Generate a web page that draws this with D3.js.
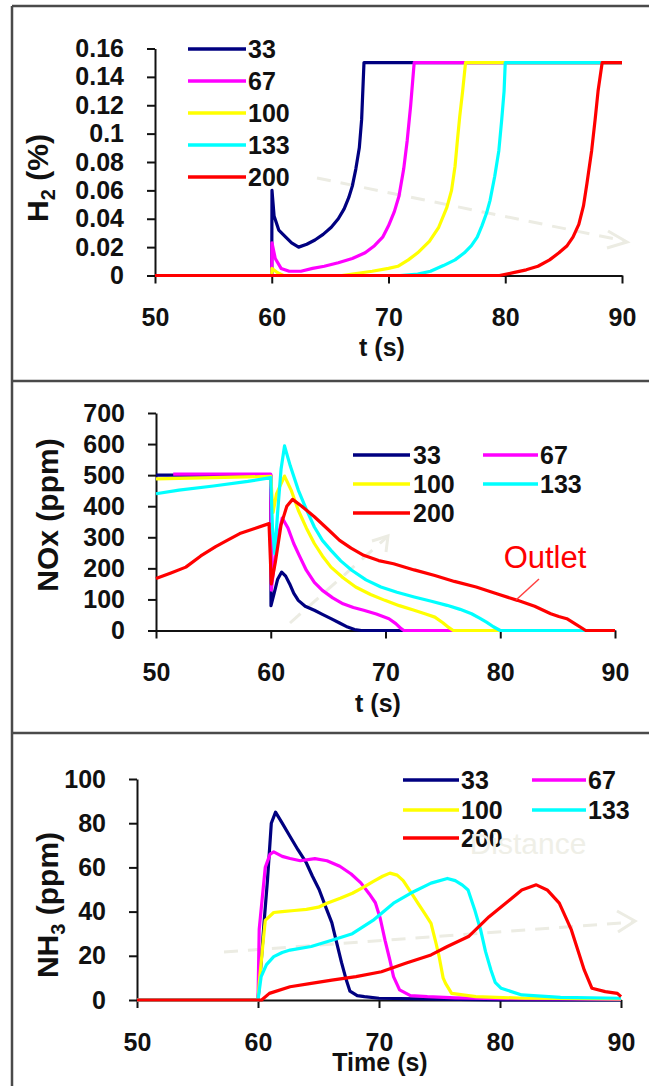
<!DOCTYPE html>
<html>
<head>
<meta charset="utf-8">
<script src="https://cdn.jsdelivr.net/npm/d3@7"></script>
<style>
  html, body { margin: 0; padding: 0; background: #fff; }
  svg { display: block; }
  .axis path, .axis line { stroke: #111; stroke-width: 2; }
  .axis text { font-family: "Liberation Sans", Arial, sans-serif; font-weight: bold; font-size: 25px; fill: #111; }
  .ttl { font-family: "Liberation Sans", Arial, sans-serif; font-weight: bold; fill: #111; }
  .leg { font-family: "Liberation Sans", Arial, sans-serif; font-weight: bold; font-size: 25px; fill: #111; }
</style>
</head>
<body>
<div id="chart"></div>
<script>
// series names + colours (same in every panel)
var seriesNames = ["33", "67", "100", "133", "200"];
var seriesColors = ["#000080", "#ff00ff", "#ffff00", "#00ffff", "#ff0000"];

var xTicks = [50, 60, 70, 80, 90];
var h2Ticks = [0, 0.02, 0.04, 0.06, 0.08, 0.1, 0.12, 0.14, 0.16];
var noxTicks = [0, 100, 200, 300, 400, 500, 600, 700];
var nh3Ticks = [0, 20, 40, 60, 80, 100];

// H2 (%) vs t (s)
var h2_33 = [[50,0],[60,0],[60.02,0.06],[60.2,0.042],[60.6,0.032],[61.2,0.027],[61.7,0.023],[62.3,0.02],[63,0.022],[63.7,0.025],[64.4,0.029],[65.1,0.034],[65.7,0.04],[66.2,0.047],[66.6,0.055],[66.9,0.063],[67.2,0.075],[67.5,0.09],[67.7,0.11],[67.9,0.15],[90,0.15]];
var h2_67 = [[50,0],[60,0],[60.02,0.023],[60.3,0.012],[60.8,0.005],[61.5,0.003],[62.5,0.003],[63.5,0.005],[64.5,0.0065],[65.7,0.009],[66.9,0.012],[68,0.016],[68.8,0.021],[69.5,0.027],[70,0.035],[70.5,0.045],[70.9,0.056],[71.3,0.075],[71.6,0.095],[71.9,0.12],[72.2,0.15],[90,0.15]];
var h2_100 = [[50,0],[60,0],[60.02,0.005],[60.5,0.002],[61,0],[66,0],[68.6,0.003],[70,0.005],[70.8,0.0065],[71.7,0.011],[72.5,0.016],[73.5,0.024],[74.3,0.034],[75,0.048],[75.4,0.06],[75.7,0.077],[75.9,0.095],[76.1,0.112],[76.35,0.13],[76.6,0.15],[90,0.15]];
var h2_133 = [[50,0],[71,0],[72.5,0.001],[73.6,0.003],[74.7,0.007],[75.7,0.011],[76.5,0.016],[77.1,0.021],[77.6,0.027],[78,0.035],[78.4,0.044],[78.7,0.053],[79.1,0.07],[79.45,0.088],[79.7,0.11],[79.9,0.13],[80,0.15],[90,0.15]];
var h2_200 = [[50,0],[79.5,0],[80.7,0.002],[81.8,0.004],[82.8,0.0065],[83.8,0.011],[84.6,0.016],[85.3,0.021],[85.8,0.027],[86.3,0.036],[86.7,0.049],[87,0.065],[87.4,0.088],[87.7,0.11],[87.95,0.13],[88.3,0.15],[90,0.15]];

// NOx (ppm) vs t (s)
var nox_33 = [[50,500],[60,500],[60.02,80],[60.3,120],[60.6,165],[60.95,188],[61.3,175],[61.65,150],[62,120],[62.4,97],[63,78],[63.8,65],[64.5,52],[65.25,38],[66,24],[66.7,11],[67.3,3],[67.9,0],[90,0]];
var nox_67 = [[51.5,503],[60,503],[60.05,130],[60.5,280],[61,362],[61.5,330],[62,280],[62.5,240],[63.1,194],[63.8,155],[64.5,129],[65.4,105],[66.3,86],[67.2,74],[68.1,65],[69.2,53],[70.3,38],[70.9,22],[71.3,8],[71.6,0],[90,0]];
var nox_100 = [[50,488],[55,492],[60,496],[60.2,380],[60.5,440],[61.2,497],[61.8,450],[62.4,387],[63.1,330],[63.8,280],[64.5,240],[65.25,204],[66.3,170],[67.4,140],[68.7,116],[69.95,97],[71.2,80],[72.5,65],[73.5,53],[74.3,43],[75,25],[75.5,10],[75.9,0],[90,0]];
var nox_133 = [[50,440],[52,452],[55,465],[58,480],[60,492],[60.15,330],[60.35,247],[60.6,380],[60.9,520],[61.2,594],[61.7,530],[62.4,452],[63.1,390],[63.8,333],[64.5,290],[65.25,258],[66.1,224],[67.06,194],[68.3,163],[69.6,140],[71,123],[72.5,108],[74,94],[75.36,81],[76.5,68],[77.5,54],[78.2,40],[78.8,27],[79.4,12],[80,0],[90,0]];
var nox_200 = [[50,167],[51.3,185],[52.6,204],[53.9,240],[55.2,270],[56.2,290],[57.3,312],[58.6,328],[59.85,344],[60.05,150],[60.4,220],[60.9,340],[61.4,400],[61.9,422],[62.7,400],[63.8,366],[65,325],[66,290],[67,265],[68.1,242],[69.4,225],[70.7,215],[72.5,195],[74.3,177],[76,158],[77.9,140],[79.7,118],[81.5,97],[83,78],[84.4,54],[85.1,45],[85.8,38],[86.6,20],[87.45,0],[90,0]];

// NH3 (ppm) vs Time (s)
var nh3_33 = [[50,0],[60,0],[60.26,17],[60.5,35],[60.78,54],[61.1,80],[61.45,85],[62,80],[62.65,74],[63.3,68],[64,62],[64.5,56],[65.05,50],[65.6,42],[66.1,35],[66.5,26],[66.9,17],[67.3,9],[67.6,4],[68.2,2],[68.8,1.5],[70,0.8],[75,0.4],[80,0],[90,0]];
var nh3_67 = [[50,0],[60,0],[60.1,32],[60.6,60],[61,66],[61.3,67],[62,65],[62.65,64],[63.5,63],[64.7,64],[65.7,63],[66.76,60.5],[67.7,57],[68.5,53],[69.2,48],[69.7,44],[70.1,37],[70.5,27],[70.9,18],[71.2,10.6],[71.7,4.6],[72.6,2],[74,1.5],[76.3,1],[80,0.6],[86,0.5],[90,0.3]];
var nh3_100 = [[50,0],[60,0],[60.1,7.5],[60.4,25],[60.6,36],[61.3,39.6],[62,40],[63,40.5],[64,41],[65,42],[65.7,43.8],[66.8,46],[67.8,48.3],[68.7,51],[69.5,53.6],[70.3,56],[70.9,57.4],[71.5,56.5],[72,54],[72.6,49],[73.2,44],[73.8,39],[74.3,34.7],[74.7,26],[74.97,19.6],[75.3,10],[75.5,7.5],[76,3],[78,1.5],[82,0.8],[90,0.5]];
var nh3_133 = [[50,0],[60,0],[60.26,10.6],[60.7,16],[61.3,19.6],[62,21.5],[62.65,22.6],[64.4,24.2],[66.1,27],[67.8,30],[69.5,36],[71.2,43.8],[72.6,48.3],[74.3,52.9],[75.65,55],[76.3,54],[76.9,52],[77.36,49.8],[77.9,41],[78.4,31.7],[78.8,22],[79.25,13.6],[79.6,8],[80.1,5.3],[81.8,2.3],[85,1.2],[90,0.8]];
var nh3_200 = [[50,0],[60.3,0],[60.94,3],[62.65,6],[64.4,7.5],[66.1,9],[68.1,10.6],[70.2,12.8],[72.2,16.6],[74.3,20.4],[75.65,24.2],[77.4,28.7],[79.1,37.7],[80.8,45.3],[81.8,49.8],[83,52.1],[83.9,49.8],[84.9,43.8],[85.9,31.7],[86.96,13.6],[87.6,5.3],[88.7,3.8],[89.7,3],[90,1.5]];

var W = 649, H = 1086;
var svg = d3.select("#chart").append("svg").attr("width", W).attr("height", H);

// frame around the three panels
var frame = svg.append("g").attr("fill", "none").attr("stroke", "#4a4a4a").attr("stroke-width", 2.5);
frame.append("line").attr("x1", 12).attr("y1", 6).attr("x2", W).attr("y2", 6);
frame.append("line").attr("x1", 12).attr("y1", 6).attr("x2", 12).attr("y2", H);
frame.append("line").attr("x1", 12).attr("y1", 381).attr("x2", W).attr("y2", 381);
frame.append("line").attr("x1", 12).attr("y1", 733).attr("x2", W).attr("y2", 733);

var panels = [
  { series: [h2_33, h2_67, h2_100, h2_133, h2_200], yTicks: h2Ticks, yMax: 0.16,
    x0: 155, x1: 622, yTop: 48.5, yBot: 275.5,
    yFmt: function(d) { return d === 0 ? "0" : String(+d.toFixed(2)); },
    yTitle: ["H", "2", " (%)"], yTitlePos: [37, 178], xTitle: "t (s)", xTitlePos: [382, 347],
    legend: { cols: [[188, 246, 248]], rows: [49, 81, 113, 145, 177], perCol: 5 } },
  { series: [nox_33, nox_67, nox_100, nox_133, nox_200], yTicks: noxTicks, yMax: 700,
    x0: 156, x1: 615, yTop: 413, yBot: 630.5,
    yFmt: d3.format("d"),
    yTitle: ["NOx (ppm)"], yTitlePos: [47, 515], xTitle: "t (s)", xTitlePos: [378, 703],
    legend: { cols: [[353, 410, 413], [483, 538, 540]], rows: [455, 484, 513], twoCol: true } },
  { series: [nh3_33, nh3_67, nh3_100, nh3_133, nh3_200], yTicks: nh3Ticks, yMax: 100,
    x0: 137, x1: 621, yTop: 779, yBot: 1000,
    yFmt: d3.format("d"),
    yTitle: ["NH", "3", " (ppm)"], yTitlePos: [47, 905], xTitle: "Time (s)", xTitlePos: [380, 1062],
    legend: { cols: [[403, 459, 461], [532, 586, 588]], rows: [780, 810, 838], twoCol: true } }
];

// faint background arrows / watermark (drawn first)
var deco = svg.append("g").attr("stroke", "#ecece3").attr("fill", "none").attr("stroke-width", 3);
deco.append("line").attr("x1", 317).attr("y1", 178).attr("x2", 625).attr("y2", 241).attr("stroke-dasharray", "14,10");
deco.append("polyline").attr("points", "608,231 627,242 607,248");
deco.append("line").attr("x1", 290).attr("y1", 623).attr("x2", 386).attr("y2", 538).attr("stroke-dasharray", "14,10");
deco.append("polyline").attr("points", "372,541 388,536 386,552");
deco.append("line").attr("x1", 224).attr("y1", 952).attr("x2", 633).attr("y2", 922).attr("stroke-dasharray", "14,10");
deco.append("polyline").attr("points", "617,911 635,921 618,932");

panels.forEach(function(p) {
  var x = d3.scaleLinear().domain([50, 90]).range([p.x0, p.x1]);
  var y = d3.scaleLinear().domain([0, p.yMax]).range([p.yBot, p.yTop]);

  svg.append("g").attr("class", "axis")
    .attr("transform", "translate(" + p.x0 + ",0)")
    .call(d3.axisLeft(y).tickValues(p.yTicks).tickFormat(p.yFmt).tickSize(8).tickSizeOuter(0).tickPadding(23));

  svg.append("g").attr("class", "axis")
    .attr("transform", "translate(0," + p.yBot + ")")
    .call(d3.axisBottom(x).tickValues(xTicks).tickSize(8).tickSizeOuter(0).tickPadding(25));

  var line = d3.line().x(function(d) { return x(d[0]); }).y(function(d) { return y(d[1]); });

  svg.append("g").selectAll("path")
    .data(p.series)
    .enter().append("path")
    .attr("d", line)
    .attr("fill", "none")
    .attr("stroke", function(d, i) { return seriesColors[i]; })
    .attr("stroke-width", 3.2)
    .attr("stroke-linejoin", "round");

  // y title (rotated, with subscript)
  var yt = svg.append("text").attr("class", "ttl")
    .attr("font-size", 30)
    .attr("text-anchor", "middle")
    .attr("transform", "translate(" + p.yTitlePos[0] + "," + p.yTitlePos[1] + ") rotate(-90)")
    .attr("dy", "0.36em");
  if (p.yTitle.length === 1) {
    yt.text(p.yTitle[0]);
  } else {
    yt.append("tspan").text(p.yTitle[0]);
    yt.append("tspan").attr("font-size", 20).attr("dy", 7).text(p.yTitle[1]);
    yt.append("tspan").attr("dy", -7).text(p.yTitle[2]);
  }

  svg.append("text").attr("class", "ttl")
    .attr("font-size", 25)
    .attr("text-anchor", "middle")
    .attr("x", p.xTitlePos[0]).attr("y", p.xTitlePos[1])
    .attr("dy", "0.36em")
    .text(p.xTitle);

  // legend
  var lg = svg.append("g");
  seriesNames.forEach(function(name, i) {
    var c, r;
    if (p.legend.twoCol) { c = i % 2; r = Math.floor(i / 2); } else { c = 0; r = i; }
    var col = p.legend.cols[c], ry = p.legend.rows[r];
    lg.append("line").attr("x1", col[0]).attr("x2", col[1]).attr("y1", ry).attr("y2", ry)
      .attr("stroke", seriesColors[i]).attr("stroke-width", 3.5);
    lg.append("text").attr("class", "leg").attr("x", col[2]).attr("y", ry).attr("dy", "0.36em").text(name);
  });
});

// NOx annotation
svg.append("line").attr("x1", 539).attr("y1", 579).attr("x2", 516).attr("y2", 600)
  .attr("stroke", "#ff4040").attr("stroke-width", 1.5);
svg.append("text")
  .attr("x", 545).attr("y", 557).attr("dy", "0.36em")
  .attr("text-anchor", "middle")
  .attr("font-family", "Liberation Sans, Arial, sans-serif")
  .attr("font-size", 31)
  .attr("fill", "#ff0000")
  .text("Outlet");

// watermark text in NH3 panel
svg.append("text")
  .attr("x", 528).attr("y", 843).attr("dy", "0.36em")
  .attr("text-anchor", "middle")
  .attr("font-family", "Liberation Sans, Arial, sans-serif")
  .attr("font-size", 30)
  .attr("fill", "#efefe7")
  .text("Distance");
</script>
</body>
</html>
